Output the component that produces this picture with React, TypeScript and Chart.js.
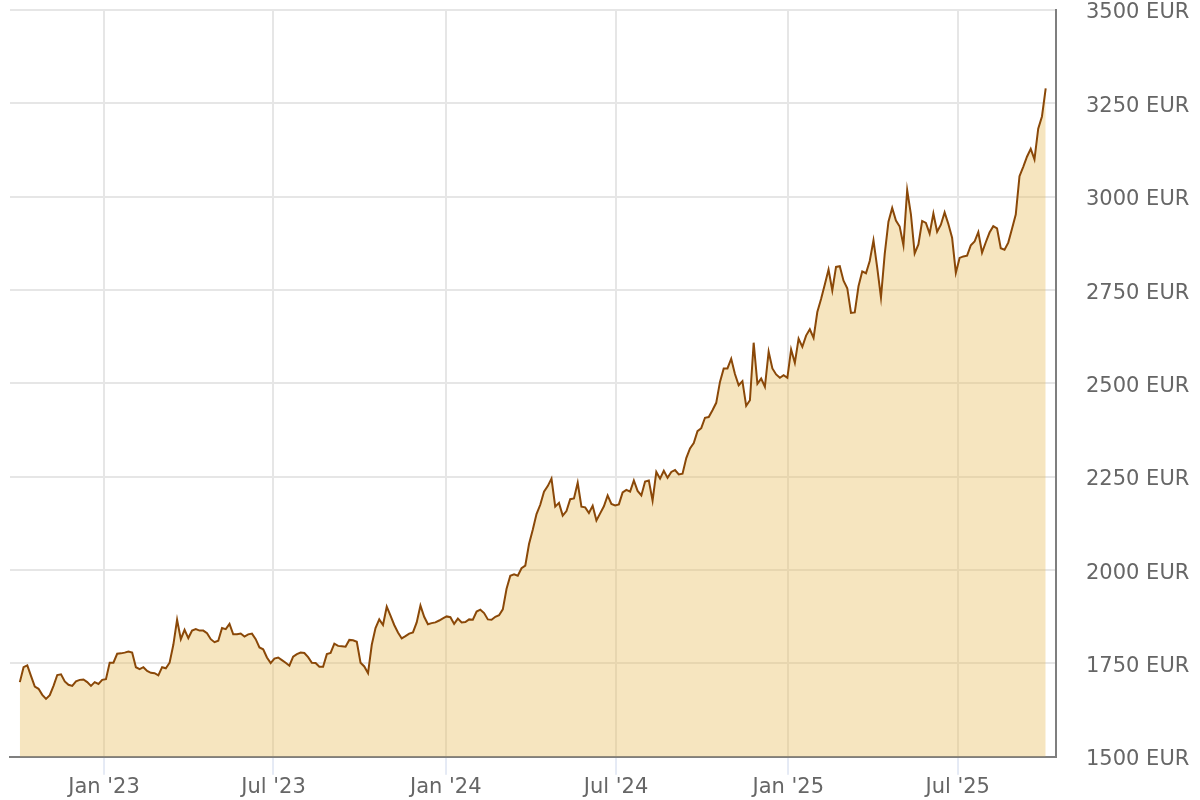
import { useEffect, useRef } from 'react';
import { Chart, registerables } from 'chart.js';

Chart.register(...registerables);

// gold price in EUR, one reading every 4 days starting 3 Oct 2022
const startDate = '2022-10-03';
const stepDays = 4;
const prices = [
  1700, 1740, 1745, 1716, 1688, 1682, 1666, 1655, 1665, 1690,
  1719, 1721, 1702, 1693, 1690, 1702, 1706, 1707, 1700, 1690,
  1700, 1695, 1706, 1708, 1752, 1752, 1776, 1777, 1779, 1782,
  1779, 1740, 1735, 1740, 1730, 1725, 1724, 1718, 1740, 1737,
  1752, 1800, 1867, 1815, 1840, 1818, 1838, 1842, 1838, 1838,
  1831, 1815, 1807, 1811, 1845, 1842, 1856, 1828, 1828, 1830,
  1822, 1828, 1830, 1815, 1793, 1788, 1766, 1751, 1763, 1766,
  1759, 1752, 1744, 1768, 1775, 1779, 1778, 1767, 1752, 1751,
  1741, 1741, 1775, 1778, 1803, 1797, 1796, 1795, 1813, 1812,
  1808, 1752, 1742, 1724, 1800, 1845, 1868, 1853, 1902, 1878,
  1853, 1833, 1817, 1823, 1830, 1833, 1860, 1905, 1875, 1855,
  1858, 1860, 1865, 1871, 1876, 1874, 1856, 1870, 1860, 1861,
  1868, 1867, 1889, 1894, 1885, 1868, 1867, 1875, 1879, 1895,
  1950, 1985, 1989, 1985, 2005, 2012, 2070, 2108, 2150, 2175,
  2210, 2225, 2245, 2170, 2180, 2146, 2158, 2190, 2192, 2234,
  2170, 2168, 2153, 2172, 2133, 2152, 2171, 2200, 2177, 2173,
  2176, 2208, 2215, 2210, 2240, 2212, 2200, 2237, 2240, 2186,
  2263, 2245, 2266, 2247, 2263, 2268, 2256, 2258, 2300, 2326,
  2340, 2372, 2380, 2408, 2410, 2428, 2448, 2504, 2540, 2540,
  2566, 2525, 2495, 2506, 2440, 2455, 2609, 2499, 2513, 2491,
  2585, 2540, 2524, 2515, 2522, 2515, 2591, 2555, 2620, 2598,
  2628, 2645, 2622, 2691, 2726, 2765, 2805, 2749, 2812, 2814,
  2775, 2755, 2689, 2690, 2760, 2800, 2795, 2828, 2883, 2810,
  2730, 2846, 2933, 2970, 2936, 2920, 2870, 3018, 2953, 2848,
  2872, 2935, 2930, 2901, 2955, 2906, 2925, 2958, 2927, 2890,
  2796, 2836, 2840, 2842, 2870, 2880, 2905, 2850, 2878, 2904,
  2921, 2915, 2862, 2858, 2877, 2914, 2952, 3055, 3080, 3107,
  3128, 3100, 3182, 3215, 3290,
];

const tickDates = ['2023-01-01', '2023-07-01', '2024-01-01', '2024-07-01', '2025-01-01', '2025-07-01'];
const tickLabels = ["Jan '23", "Jul '23", "Jan '24", "Jul '24", "Jan '25", "Jul '25"];
const axisStart = '2022-09-22';
const axisEnd = '2025-10-14';

const DAY = 86400000;
const toDay = (d: string) => Date.parse(d + 'T00:00:00Z') / DAY;

export default function App() {
  const canvasRef = useRef<HTMLCanvasElement>(null);

  useEffect(() => {
    if (!canvasRef.current) return;
    const ctx = canvasRef.current.getContext('2d');
    if (!ctx) return;

    const first = toDay(startDate);
    const points = prices.map((p, i) => ({ x: first + i * stepDays, y: p }));
    const tickDays = tickDates.map(toDay);
    const font = { family: "'DejaVu Sans', Verdana, sans-serif", size: 21 };

    const chart = new Chart(ctx, {
      type: 'line',
      data: {
        datasets: [{
          data: points,
          borderColor: '#8a4808',
          borderWidth: 2,
          backgroundColor: 'rgba(232, 190, 95, 0.4)',
          fill: 'start',
          pointRadius: 0,
          tension: 0,
        }],
      },
      options: {
        responsive: false,
        animation: false,
        layout: { padding: { left: 10, right: 0, top: 0, bottom: 0 } },
        plugins: { legend: { display: false }, tooltip: { enabled: false } },
        scales: {
          x: {
            type: 'linear',
            min: toDay(axisStart) + 0.5,
            max: toDay(axisEnd),
            afterBuildTicks: (scale: any) => {
              scale.ticks = tickDays.map((value) => ({ value }));
            },
            grid: {
              color: '#e6e6e6',
              lineWidth: 2,
              tickLength: 18,
              tickColor: '#ccd6eb',
              tickWidth: 1,
            },
            border: { display: true, color: '#7f7f7f', width: 2 },
            ticks: {
              autoSkip: false,
              maxRotation: 0,
              padding: 0,
              color: '#666666',
              font,
              callback: (_v: any, i: number) => tickLabels[i],
            },
          },
          y: {
            position: 'right',
            min: 1500,
            max: 3500,
            afterFit: (scale: any) => {
              // fixed axis width, no extra room above the plot
              scale.width = 144;
              scale.paddingTop = 10;
              scale.paddingBottom = 0;
            },
            grid: { color: '#e6e6e6', lineWidth: 2, drawTicks: false },
            border: { display: true, color: '#7f7f7f', width: 2 },
            ticks: {
              stepSize: 250,
              padding: 30,
              labelOffset: 3,
              color: '#666666',
              font,
              callback: (v: any) => `${v} EUR`,
            },
          },
        },
      },
    });

    return () => chart.destroy();
  }, []);

  return (
    <div style={{ position: 'fixed', left: 0, top: 0, width: 1200, height: 800, background: '#fff' }}>
      <canvas ref={canvasRef} width={1200} height={800}></canvas>
    </div>
  );
}
